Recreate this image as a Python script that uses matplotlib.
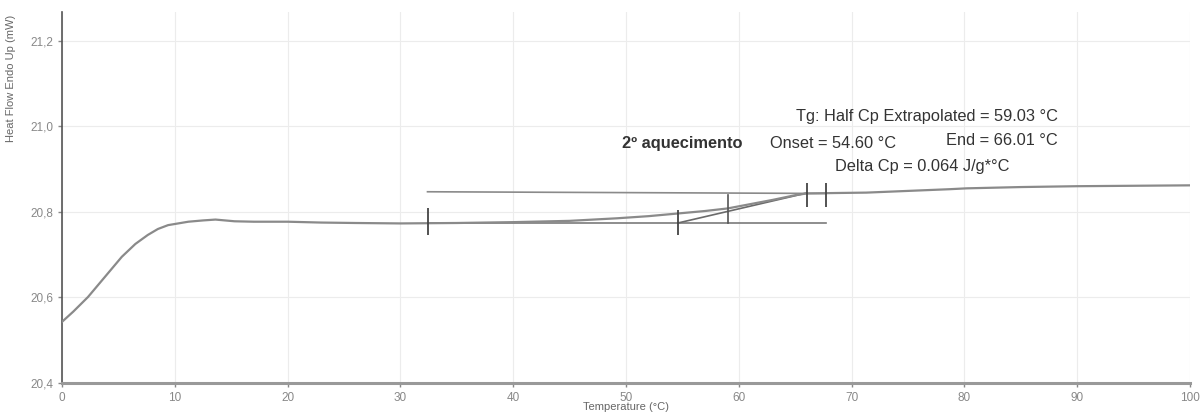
import matplotlib.pyplot as plt
from matplotlib.ticker import FuncFormatter

plt.rcParams['font.family'] = ['Liberation Sans', 'DejaVu Sans']

# DSC curve, 2nd heating
temp = [0, 1.0, 2.3, 3.8, 5.3, 6.5, 7.6, 8.5, 9.4, 11.2, 12.5, 13.6, 15.3, 17, 20, 23, 26, 30, 35,
        40, 45, 49.2, 52, 54.5, 57, 59, 61, 63, 65, 66, 68.4, 71.3, 75, 78.7, 80.2, 85, 90, 95, 100]
heat = [20.543, 20.567, 20.601, 20.648, 20.695, 20.725, 20.746, 20.760, 20.769, 20.777, 20.780, 20.782,
        20.778, 20.777, 20.777, 20.775, 20.774, 20.773, 20.774, 20.776, 20.779, 20.785, 20.790, 20.796,
        20.802, 20.808, 20.818, 20.828, 20.839, 20.843, 20.844, 20.845, 20.849, 20.853, 20.855, 20.858,
        20.860, 20.861, 20.862]

# analysis lines (tangents)
base_x, base_y = [32.4, 67.7], [20.774, 20.774]
top_x, top_y = [32.4, 67.7], [20.847, 20.843]
infl_x, infl_y = [54.6, 66.01], [20.774, 20.844]
tg_x, tg_y = [59.03, 59.03], [20.773, 20.840]

# limit / result markers (x, y_low, y_high)
mark_x = [32.4, 54.6, 66.01, 67.7]
mark_lo = [20.745, 20.745, 20.811, 20.811]
mark_hi = [20.808, 20.804, 20.867, 20.867]

xticks = [0, 10, 20, 30, 40, 50, 60, 70, 80, 90, 100]
yticks = [20.4, 20.6, 20.8, 21.0, 21.2]

fig = plt.figure(figsize=(12, 4.16), dpi=100)
ax = fig.add_axes([0.0517, 0.0793, 0.94, 0.8917])

ax.plot(temp, heat, color='#8a8a8a', lw=1.6, zorder=3)
ax.plot(base_x, base_y, color='#7a7a7a', lw=1.2, zorder=2)
ax.plot(top_x, top_y, color='#8a8a8a', lw=1.2, zorder=2)
ax.plot(infl_x, infl_y, color='#6a6a6a', lw=1.2, zorder=2)
ax.plot(tg_x, tg_y, color='#555555', lw=1.2, zorder=4)
ax.vlines(mark_x, mark_lo, mark_hi, color='#444444', lw=1.3, zorder=4)

ax.set_xlim(0, 100)
ax.set_ylim(20.4, 21.267)
ax.set_xticks(xticks)
ax.set_yticks(yticks)
ax.yaxis.set_major_formatter(FuncFormatter(lambda v, p: ('%.1f' % v).replace('.', ',')))
ax.grid(True, color='#ececec', lw=0.8)
ax.set_axisbelow(True)

for s in ['top', 'right']:
    ax.spines[s].set_visible(False)
ax.spines['left'].set_color('#555555')
ax.spines['left'].set_linewidth(1.2)
ax.spines['bottom'].set_color('#999999')
ax.spines['bottom'].set_linewidth(2.2)
ax.tick_params(labelsize=8.5, colors='#888888', length=3, width=1)

ax.set_xlabel('Temperature (°C)', fontsize=8, color='#666666')
ax.xaxis.set_label_coords(0.5, -0.052)
ax.set_ylabel('Heat Flow Endo Up (mW)', fontsize=8, color='#666666')
ax.yaxis.set_label_coords(-0.041, 0.82)

txt = dict(fontsize=11.8, color='#333333')
ax.text(55.0, 20.96, '2º aquecimento', ha='center', va='center', fontweight='bold', **txt)
ax.text(88.3, 21.022, 'Tg: Half Cp Extrapolated = 59.03 °C', ha='right', va='center', **txt)
ax.text(62.8, 20.96, 'Onset = 54.60 °C', ha='left', va='center', **txt)
ax.text(88.3, 20.967, 'End = 66.01 °C', ha='right', va='center', **txt)
ax.text(68.5, 20.905, 'Delta Cp = 0.064 J/g*°C', ha='left', va='center', **txt)

fig.savefig('out.png', dpi=100)
